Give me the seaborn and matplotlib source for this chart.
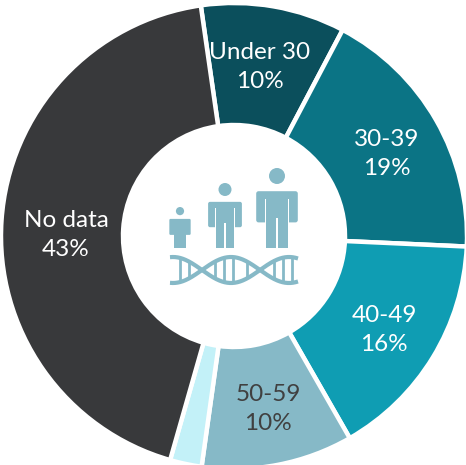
import numpy as np
import matplotlib
matplotlib.use('Agg')
import matplotlib.pyplot as plt
from matplotlib.patches import Circle, FancyBboxPatch, Rectangle
import seaborn as sns

# slice sizes, the printed labels are rounded differently
groups = ['Under 30', '30-39', '40-49', '50-59', 'Unknown', 'No data']
sizes = [10, 18, 16, 10.5, 2.2, 43.3]
printed = ['10%', '19%', '16%', '10%', '', '43%']
colors = ['#0B4F5C', '#0B7485', '#0F9DB3', '#86B9C7', '#C3F1F8', '#38393B']
text_colors = ['white', 'white', 'white', '#404040', 'white', 'white']
label_pos = [(260, 67), (387, 154), (384, 330), (268, 409), None, (66, 235)]

sns.set_theme(style='white')
plt.rcParams['font.family'] = ['Lato', 'DejaVu Sans']

icon_color = '#86B9C7'

W, H = 466, 465
fig = plt.figure(figsize=(W / 100, H / 100), dpi=100)
ax = fig.add_axes([0, 0, 1, 1])

cx, cy, r_out = 234, 236, 233
# y axis is flipped so the pie runs clockwise on screen
ax.pie(sizes, colors=colors, center=(cx, cy), radius=r_out, startangle=-98.2,
       counterclock=True, frame=True,
       wedgeprops=dict(width=r_out - 111, edgecolor='white', linewidth=3.2))
ax.set_xlim(0, W)
ax.set_ylim(H, 0)
ax.set_aspect('equal')
ax.axis('off')

for name, pct, col, pos in zip(groups, printed, text_colors, label_pos):
    if pos is None:
        continue
    ax.text(pos[0], pos[1], name + '\n' + pct, color=col, fontsize=17.5, ha='center', va='center',
            linespacing=1.42)


def person(x, top, bottom):
    h = bottom - top
    w = h * 0.52
    head = h * 0.1
    ax.add_patch(Circle((x, top + head), head, color=icon_color, lw=0))
    sh = top + h * 0.29
    pad = h * 0.03
    # arms
    ax.add_patch(FancyBboxPatch((x - w / 2 + pad, sh + pad), w - 2 * pad, h * 0.33,
                                boxstyle='round,pad=%f' % pad, color=icon_color, lw=0))
    # gaps between arms and body
    gap = h * 0.02
    bw = w * 0.52
    for s in (-1, 1):
        gx = x + s * (bw / 2 + gap / 2)
        ax.add_patch(Rectangle((gx - gap / 2, sh + h * 0.1), gap, h * 0.32, color='white', lw=0))
    # torso and legs
    ax.add_patch(Rectangle((x - bw / 2, sh + h * 0.05), bw, bottom - sh - h * 0.05, color=icon_color, lw=0))
    ax.add_patch(Rectangle((x - h * 0.012, top + h * 0.62), h * 0.024, h * 0.38, color='white', lw=0))


person(180, 207, 248)
person(225, 183, 248)
person(277, 168, 248)

# dna helix under the people
xs = np.linspace(170, 298, 200)
k = np.pi / 58
y1 = 270 + 13 * np.sin(k * (xs - 202))
y2 = 270 - 13 * np.sin(k * (xs - 202))
ax.plot(xs, y1, color=icon_color, lw=3, solid_capstyle='butt')
ax.plot(xs, y2, color=icon_color, lw=3, solid_capstyle='butt')
for rung in [180, 189, 215, 224, 233, 247, 274, 283, 292]:
    a = 270 + 13 * np.sin(k * (rung - 202))
    b = 270 - 13 * np.sin(k * (rung - 202))
    ax.plot([rung, rung], [a, b], color=icon_color, lw=2, solid_capstyle='butt')

fig.savefig('out.png', dpi=100, facecolor='white')
